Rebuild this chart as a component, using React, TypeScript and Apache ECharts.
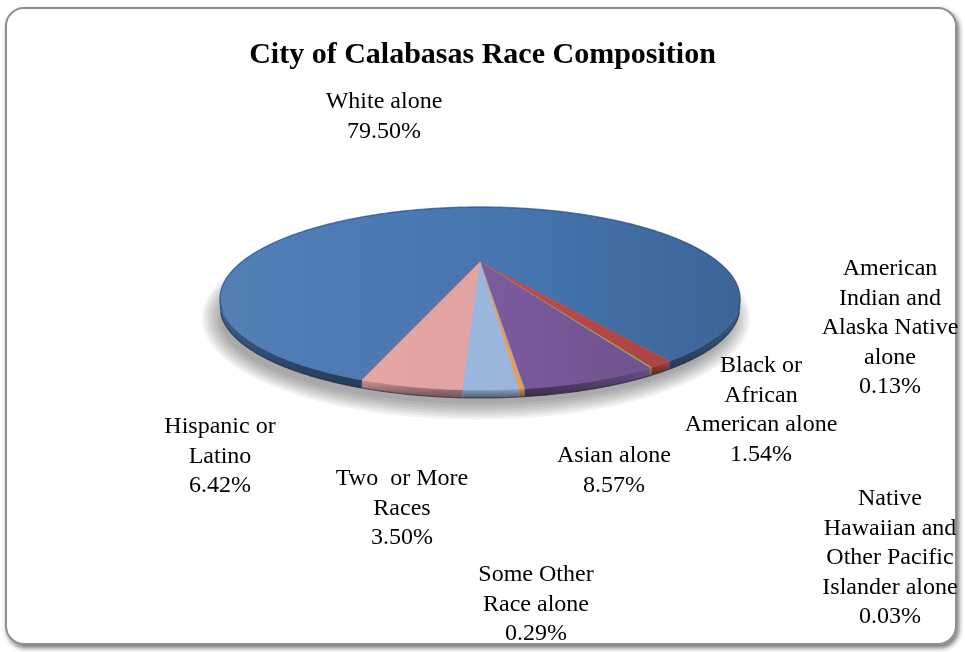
import React, { useEffect, useRef } from 'react';
import * as echarts from 'echarts';

// ---- data ----
const titleText = 'City of Calabasas Race Composition';
const categories = [
  'White alone',
  'Black or African American alone',
  'American Indian and Alaska Native alone',
  'Asian alone',
  'Native Hawaiian and Other Pacific Islander alone',
  'Some Other Race alone',
  'Two or More Races',
  'Hispanic or Latino',
];
const values = [79.5, 1.54, 0.13, 8.57, 0.03, 0.29, 3.5, 6.42];
const labelLines = [
  ['White alone'],
  ['Black or', 'African', 'American alone'],
  ['American', 'Indian and', 'Alaska Native', 'alone'],
  ['Asian alone'],
  ['Native', 'Hawaiian and', 'Other Pacific', 'Islander alone'],
  ['Some Other', 'Race alone'],
  ['Two  or More', 'Races'],
  ['Hispanic or', 'Latino'],
];

// ---- layout / style ----
const colors = ['#4675B0', '#BE4B48', '#9BBB59', '#7A5A9C', '#4BACC6', '#F39B4C', '#9AB6DC', '#E2A3A1'];
const labelAnchors = [
  [384, 100], [761, 364], [890, 267], [614, 454], [890, 497], [536, 573], [402, 477], [220, 425],
];
const CX = 480, APEX_Y = 262, ECY = 298.5, RA = 260, RB = 91.5, WALL = 8;
const START = -117; // degrees, first slice start, slices go clockwise
const LINE_H = 29.5;
const FONT = '"Liberation Serif", "Times New Roman", serif';

function hexToRgb(h: string) {
  const n = parseInt(h.slice(1), 16);
  return [(n >> 16) & 255, (n >> 8) & 255, n & 255];
}
function mix(h: string, t: string, f: number) {
  const a = hexToRgb(h), b = hexToRgb(t);
  const c = a.map((v, i) => Math.round(v + (b[i] - v) * f));
  return `rgb(${c[0]},${c[1]},${c[2]})`;
}
function rim(deg: number, dy = 0) {
  const r = (deg * Math.PI) / 180;
  return [CX + RA * Math.cos(r), ECY - RB * Math.sin(r) + dy];
}
function arcPts(from: number, to: number, dy = 0) {
  const n = Math.max(2, Math.ceil(Math.abs(from - to) / 0.5));
  const pts: number[][] = [];
  for (let k = 0; k <= n; k++) pts.push(rim(from + ((to - from) * k) / n, dy));
  return pts;
}

const total = values.reduce((a, b) => a + b, 0);
const cum: number[] = [0];
values.forEach((v, i) => cum.push(cum[i] + v));
const angleOf = (c: number) => START - (c / total) * 360;

function renderSlice(params: any, api: any) {
  const i = params.dataIndex;
  const v = api.value(0);
  const a0 = angleOf(cum[i]);
  const a1 = angleOf(cum[i] + v);
  const col = colors[i];
  const children: any[] = [];
  // front wall
  for (const k of [-2, -1, 0, 1]) {
    const lo = Math.max(a1, -180 + 360 * k);
    const hi = Math.min(a0, 360 * k);
    if (hi - lo > 0.01) {
      const top = arcPts(hi, lo);
      const bot = arcPts(hi, lo, WALL).reverse();
      children.push({
        type: 'polygon',
        shape: { points: top.concat(bot) },
        style: {
          fill: {
            type: 'linear', x: 0, y: 0, x2: 0, y2: 1,
            colorStops: [
              { offset: 0, color: mix(col, '#000000', 0.1) },
              { offset: 1, color: mix(col, '#000000', 0.5) },
            ],
          },
          stroke: mix(col, '#000000', 0.3),
          lineWidth: 0.3,
        },
      });
    }
  }
  // top surface
  const pts = [[CX, APEX_Y]].concat(arcPts(a0, a1));
  children.push({
    type: 'polygon',
    shape: { points: pts },
    style: {
      fill: {
        type: 'linear', x: CX - RA, y: 0, x2: CX + RA, y2: 0, global: true,
        colorStops: [
          { offset: 0, color: mix(col, '#ffffff', 0.07) },
          { offset: 0.55, color: col },
          { offset: 1, color: mix(col, '#000000', 0.14) },
        ],
      },
      stroke: col,
      lineWidth: 0.4,
    },
  });
  // label
  const [lx, ly] = labelAnchors[i];
  children.push({
    type: 'text',
    x: lx,
    y: ly - LINE_H / 2,
    style: {
      text: labelLines[i].join('\n') + '\n' + v.toFixed(2) + '%',
      fill: '#000',
      fontSize: 24,
      fontFamily: FONT,
      align: 'center',
      verticalAlign: 'top',
      lineHeight: LINE_H,
    },
  });
  return { type: 'group', children };
}

function renderShadow() {
  const children: any[] = [];
  for (let k = 0; k < 7; k++) {
    children.push({
      type: 'ellipse',
      shape: { cx: CX - 4, cy: 318, rx: 256 + k * 3, ry: 86 + k * 2.6 },
      style: { fill: 'rgba(0,0,0,0.055)' },
    });
  }
  return { type: 'group', children };
}

function renderRim() {
  return {
    type: 'group',
    children: [
      {
        type: 'polyline',
        shape: { points: arcPts(-8, 188) },
        style: { stroke: 'rgba(25,45,85,0.45)', lineWidth: 1.4, fill: 'none' },
      },
      {
        type: 'polyline',
        shape: { points: arcPts(-4, -176, WALL) },
        style: { stroke: 'rgba(25,25,45,0.55)', lineWidth: 1.2, fill: 'none' },
      },
    ],
  };
}

const option: any = {
  animation: false,
  title: {
    text: titleText,
    left: 'center',
    top: 32,
    textStyle: { fontFamily: FONT, fontWeight: 'bold', fontSize: 30, color: '#000' },
  },
  graphic: [
    {
      type: 'rect',
      z: -10,
      shape: { x: 6, y: 8, width: 950, height: 636, r: 18 },
      style: {
        fill: '#ffffff',
        stroke: '#8e8e8e',
        lineWidth: 2,
        shadowBlur: 5,
        shadowOffsetX: 2,
        shadowOffsetY: 3,
        shadowColor: 'rgba(0,0,0,0.55)',
      },
    },
  ],
  series: [
    { type: 'custom', coordinateSystem: 'none', z: 1, data: [[0]], renderItem: renderShadow, silent: true },
    {
      type: 'custom',
      name: 'Race',
      coordinateSystem: 'none',
      z: 2,
      data: values.map((v, i) => ({ name: categories[i], value: [v] })),
      renderItem: renderSlice,
    },
    { type: 'custom', coordinateSystem: 'none', z: 3, data: [[0]], renderItem: renderRim, silent: true },
  ],
};

export default function App() {
  const ref = useRef<HTMLDivElement>(null);
  useEffect(() => {
    const chart = echarts.init(ref.current!, undefined, { renderer: 'svg' });
    chart.setOption(option);
    return () => chart.dispose();
  }, []);
  return <div ref={ref} style={{ position: 'fixed', left: 0, top: 0, width: 965, height: 652 }} />;
}
